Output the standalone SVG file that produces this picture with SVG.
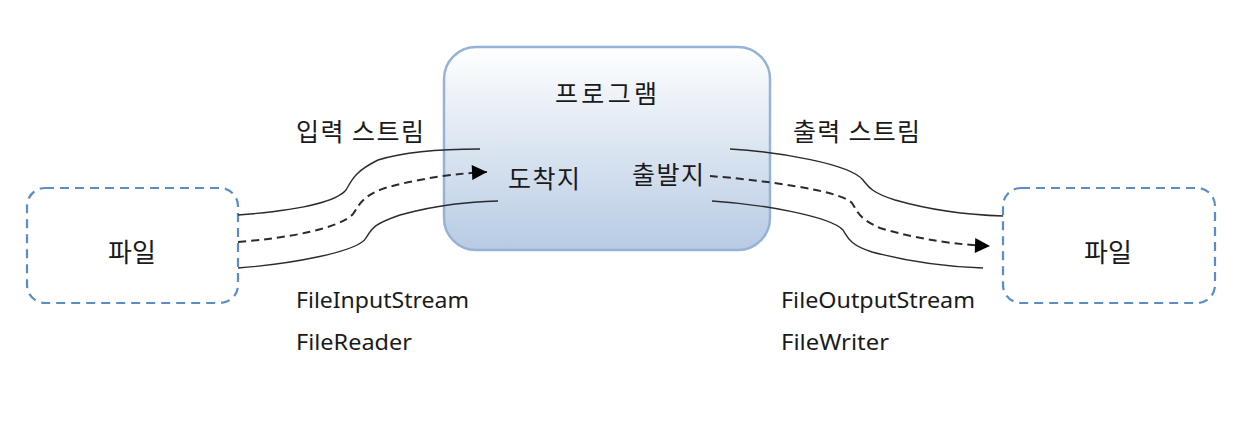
<svg xmlns="http://www.w3.org/2000/svg" width="1249" height="432" viewBox="0 0 1249 432">
<defs>
<linearGradient id="pg" x1="0" y1="0" x2="0" y2="1">
<stop offset="0" stop-color="#ffffff"/>
<stop offset="1" stop-color="#b7cbe3"/>
</linearGradient>
<marker id="ah" viewBox="0 0 10 10" refX="10" refY="5" markerWidth="16" markerHeight="15" markerUnits="userSpaceOnUse" orient="auto">
<path d="M0,0 L10,5 L0,10 Z" fill="#000"/>
</marker>
<style>
.file{fill:#fff;stroke:#5b8cc8;stroke-width:2.2;stroke-dasharray:9 6}
.ko{font-family:"Noto Sans CJK KR","Noto Sans",sans-serif;font-size:25px;fill:#1a1a1a}
.en{font-family:"Noto Sans","Open Sans",sans-serif;font-size:22px;fill:#1a1a1a}
.ln{fill:none;stroke:#2a2a2a;stroke-width:1.4}
.dl{fill:none;stroke:#2a2a2a;stroke-width:2;stroke-dasharray:8 5}
</style>
</defs>
<rect width="1249" height="432" fill="#fff"/>
<g id="program">
<rect x="444" y="47" width="326" height="203" rx="32" fill="url(#pg)" stroke="#95b3d7" stroke-width="2.5"/>
<text class="ko" x="555" y="92" dominant-baseline="central" textLength="102" lengthAdjust="spacing">프로그램</text>
<text class="ko" x="508" y="177" dominant-baseline="central" textLength="72" lengthAdjust="spacing">도착지</text>
<text class="ko" x="632" y="173" dominant-baseline="central" textLength="72" lengthAdjust="spacing">출발지</text>
</g>
<g id="file-left">
<rect class="file" x="27" y="188" width="211" height="115" rx="18"/>
<text class="ko" x="132" y="250" text-anchor="middle" dominant-baseline="central" style="font-size:26px">파일</text>
</g>
<g id="file-right">
<rect class="file" x="1003" y="188" width="212" height="115" rx="18"/>
<text class="ko" x="1108" y="250" text-anchor="middle" dominant-baseline="central" style="font-size:26px">파일</text>
</g>
<g id="labels">
<text class="ko" x="296" y="130" dominant-baseline="central" textLength="128" lengthAdjust="spacing">입력 스트림</text>
<text class="ko" x="793" y="130" dominant-baseline="central" textLength="127" lengthAdjust="spacing">출력 스트림</text>
<text class="en" x="296" y="308" textLength="173" lengthAdjust="spacingAndGlyphs">FileInputStream</text>
<text class="en" x="296" y="350" textLength="116" lengthAdjust="spacingAndGlyphs">FileReader</text>
<text class="en" x="781" y="308" textLength="194" lengthAdjust="spacingAndGlyphs">FileOutputStream</text>
<text class="en" x="781" y="350" textLength="108" lengthAdjust="spacingAndGlyphs">FileWriter</text>
</g>
<g id="connectors">
<path class="ln" d="M238,215 C290,211 335,203 346,190 C352,180 354,172 378,160 C410,150 450,149 480,149"/>
<path class="dl" d="M238,242 C290,238 340,228 353,214 C360,204 362,196 385,188 C420,178 460,173 487,172" marker-end="url(#ah)"/>
<path class="ln" d="M238,268 C290,264 358,252 366,238 C372,228 374,224 400,215 C440,204 470,202 498,201"/>
<path class="ln" d="M730,149 C780,152 850,164 863,180 C868,186 870,192 895,200 C930,210 970,215 1003,216"/>
<path class="dl" d="M710,176 C760,180 840,190 852,203 C858,212 858,218 880,228 C920,240 960,245 990,246" marker-end="url(#ah)"/>
<path class="ln" d="M712,201 C760,204 830,216 843,230 C848,238 850,245 872,252 C910,262 950,267 983,268"/>
</g>
</svg>
